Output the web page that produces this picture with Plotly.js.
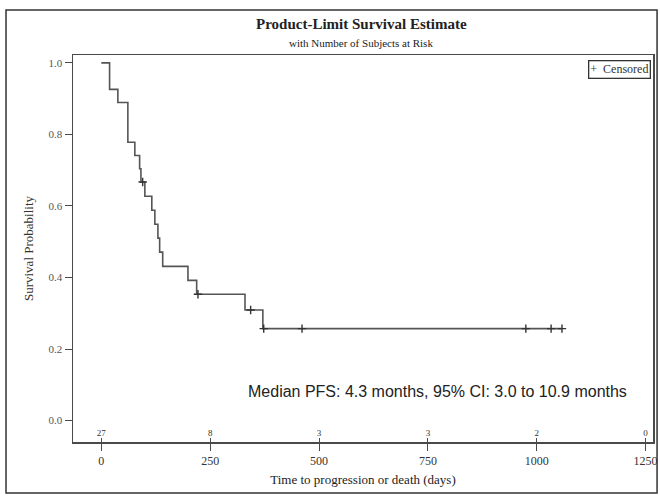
<!DOCTYPE html>
<html>
<head>
<meta charset="utf-8">
<script src="https://cdn.plot.ly/plotly-3.0.1.min.js"></script>
<style>html,body{margin:0;padding:0;background:#fff;}#chart{width:660px;height:496px;}</style>
</head>
<body>
<div id="chart"></div>
<script>
// Kaplan-Meier step curve (days, survival probability)
var kmTimes = [0, 19, 38, 61, 77, 88, 91, 100, 116, 123, 130, 134, 141, 199, 219, 330, 371, 1058];
var kmSurv  = [1.0, 0.926, 0.889, 0.778, 0.741, 0.704, 0.667, 0.627, 0.588, 0.549, 0.510, 0.471, 0.431, 0.392, 0.353, 0.309, 0.257, 0.257];
// Censored observations
var censTimes = [95, 222, 343, 373, 461, 975, 1033, 1058];
var censSurv  = [0.667, 0.353, 0.309, 0.257, 0.257, 0.257, 0.257, 0.257];
// Number at risk
var riskTimes  = [0, 250, 500, 750, 1000, 1250];
var riskCounts = [27, 8, 3, 3, 2, 0];
var xTicks = [0, 250, 500, 750, 1000, 1250];
var yTicks = [0.0, 0.2, 0.4, 0.6, 0.8, 1.0];
var yTickText = ['0.0', '0.2', '0.4', '0.6', '0.8', '1.0'];

var serif = 'Liberation Serif, Times New Roman, serif';
var lineCol = '#4a4a4a';
var xRange = [-65, 1267];

var traces = [
  {
    x: kmTimes, y: kmSurv, type: 'scatter', mode: 'lines',
    line: {shape: 'hv', color: '#555555', width: 1.6},
    showlegend: false, hoverinfo: 'skip'
  },
  {
    x: censTimes, y: censSurv, type: 'scatter', mode: 'markers',
    name: 'Censored',
    marker: {symbol: 'cross-thin', size: 6, line: {width: 1.4, color: '#333333'}, color: '#333333'},
    showlegend: false
  },
  {
    x: riskTimes, y: riskTimes.map(function(){return -0.038;}), type: 'scatter', mode: 'text',
    xaxis: 'x2', yaxis: 'y',
    text: riskCounts.map(String), textfont: {family: serif, size: 9, color: '#333'},
    showlegend: false, hoverinfo: 'skip'
  }
];

var layout = {
  width: 660, height: 496,
  margin: {l: 73, r: 7, t: 55, b: 54},
  paper_bgcolor: '#fff', plot_bgcolor: '#fff',
  showlegend: false,
  xaxis: {
    range: xRange, tickvals: xTicks, ticktext: xTicks.map(String),
    ticks: 'outside', ticklen: 7, tickcolor: lineCol, tickwidth: 1,
    showline: true, linecolor: lineCol, linewidth: 1.5, mirror: true,
    showgrid: false, zeroline: false,
    tickfont: {family: serif, size: 12, color: '#333'},
    title: {text: 'Time to progression or death (days)', font: {family: serif, size: 13, color: '#222'}, standoff: 8}
  },
  xaxis2: {
    range: xRange, overlaying: 'x', side: 'bottom', anchor: 'y',
    tickvals: xTicks, showticklabels: false,
    ticks: 'inside', ticklen: 4, tickcolor: lineCol, tickwidth: 1,
    showline: false, showgrid: false, zeroline: false
  },
  yaxis: {
    range: [-0.06, 1.022], tickvals: yTicks, ticktext: yTickText,
    ticks: 'outside', ticklen: 7, tickcolor: lineCol, tickwidth: 1,
    showline: true, linecolor: lineCol, linewidth: 1.5, mirror: true,
    showgrid: false, zeroline: false,
    tickfont: {family: serif, size: 11, color: '#555'},
    title: {text: 'Survival Probability', font: {family: serif, size: 13, color: '#333'}, standoff: 12}
  },
  annotations: [
    {
      x: 0.497, y: 1.080, xref: 'paper', yref: 'paper', showarrow: false,
      xanchor: 'center', yanchor: 'middle',
      text: '<b>Product-Limit Survival Estimate</b>',
      font: {family: serif, size: 15, color: '#222'}
    },
    {
      x: 0.497, y: 1.031, xref: 'paper', yref: 'paper', showarrow: false,
      xanchor: 'center', yanchor: 'middle',
      text: 'with Number of Subjects at Risk',
      font: {family: serif, size: 11, color: '#222'}
    },
    {
      x: 771, y: 0.0825, xref: 'x', yref: 'y', showarrow: false,
      text: 'Median PFS: 4.3 months, 95% CI: 3.0 to 10.9 months',
      font: {family: 'Liberation Sans, Arial, sans-serif', size: 16, color: '#222'}
    },
    {
      x: 0.9966, y: 0.987, xref: 'paper', yref: 'paper', xanchor: 'right', yanchor: 'top',
      showarrow: false, text: '+&nbsp;&nbsp;Censored',
      font: {family: serif, size: 12, color: '#333'},
      bordercolor: '#333', borderwidth: 1.3, borderpad: 1, bgcolor: '#fff'
    }
  ],
  shapes: [
    {type: 'rect', xref: 'paper', yref: 'paper', x0: -0.1155, x1: 1.007, y0: -0.132, y1: 1.116,
     line: {color: '#333', width: 1.5}, fillcolor: 'rgba(0,0,0,0)', layer: 'below'}
  ]
};

Plotly.newPlot('chart', traces, layout, {displayModeBar: false, staticPlot: true});
</script>
</body>
</html>
